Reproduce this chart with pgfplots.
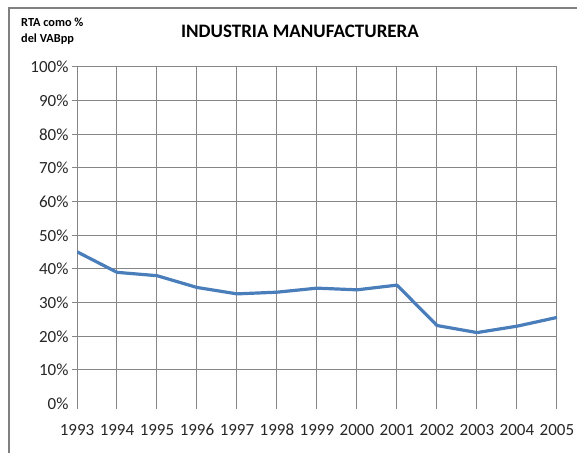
\documentclass[border=0pt]{standalone}
\usepackage{fontspec}
\setmainfont{Carlito}
\usepackage{pgfplots}
\pgfplotsset{compat=1.18}
\definecolor{serie}{RGB}{74,126,187}
\definecolor{gridc}{RGB}{134,134,134}
\begin{document}
\begin{tikzpicture}[x=1pt,y=1pt]
\path[use as bounding box] (0,0) rectangle (577,453);
\draw[black!50, line width=1.5pt] (9,0) -- (9,445) -- (578,445);
\node[anchor=base, font=\bfseries\fontsize{19}{22}\selectfont] at (300,415) {INDUSTRIA MANUFACTURERA};
\node[anchor=base west, inner sep=0pt, font=\bfseries\fontsize{12.3}{14}\selectfont] at (21,426.3) {RTA como \%};
\node[anchor=base west, inner sep=0pt, font=\bfseries\fontsize{12.3}{14}\selectfont] at (21,410.7) {del VABpp};
\begin{axis}[
  at={(77pt,49.4pt)}, anchor=south west,
  scale only axis, width=480pt, height=336.6pt,
  xmin=1993, xmax=2005, ymin=0, ymax=100,
  xtick={1993,...,2005}, ytick={10,20,...,100},
  extra y ticks={0},
  extra y tick style={grid=none, tick style={draw=none}},
  yticklabel={\pgfmathprintnumber{\tick}\%},
  /pgf/number format/assume math mode=true,
  x tick label style={/pgf/number format/1000 sep={}, yshift=-12pt},
  tick label style={font=\fontsize{17}{20}\selectfont, text=black!85},
  grid=major,
  major grid style={gridc, line width=1pt},
  axis line style={draw=none},
  tick align=outside, major tick length=5pt,
  tick style={gridc, line width=1pt},
  xtick pos=bottom, ytick pos=left,
]
\addplot[serie, line width=3.2pt, line join=round] table {
x y
1993 45.1
1994 39.0
1995 38.0
1996 34.5
1997 32.6
1998 33.1
1999 34.3
2000 33.8
2001 35.2
2002 23.2
2003 21.1
2004 23.0
2005 25.6
};
\end{axis}
\end{tikzpicture}
\end{document}
